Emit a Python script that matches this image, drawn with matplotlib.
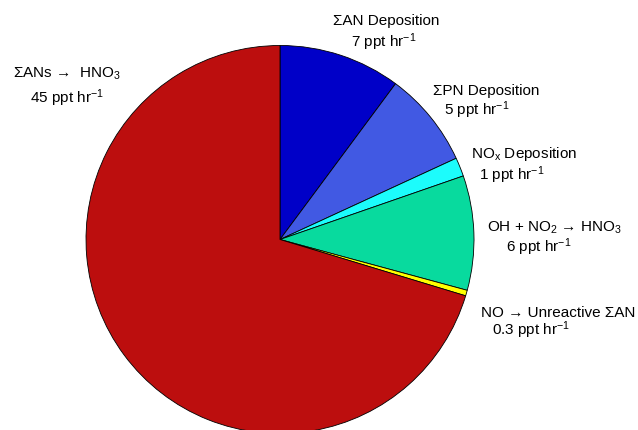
import matplotlib
matplotlib.use('Agg')
import matplotlib.pyplot as plt

plt.rcParams['font.family'] = ['Liberation Sans', 'DejaVu Sans']
plt.rcParams['mathtext.fontset'] = 'custom'
plt.rcParams['mathtext.rm'] = 'Liberation Sans'
plt.rcParams['mathtext.it'] = 'Liberation Sans'

# loss rates (ppt/hr), clockwise from top
names = ['\u03a3AN Deposition', '\u03a3PN Deposition', r'NO$_\mathrm{x}$ Deposition',
         r'OH + NO$_\mathrm{2}$ \u2192 HNO$_\mathrm{3}$'.replace(r'\u2192', '\u2192'),
         'NO \u2192 Unreactive \u03a3AN', '\u03a3ANs \u2192  HNO$_\mathrm{3}$']
rates = [6.5, 5.1, 1.0, 6.1, 0.3, 45]
rate_labels = ['7', '5', '1', '6', '0.3', '45']
colors = ['#0000c8', '#4159e3', '#1cfcfc', '#08da9e', '#ffff00', '#bc0e0e']

W, H = 638, 431
fig = plt.figure(figsize=(W / 100, H / 100), dpi=100)

# pie centre (280, 240.5) px, radius 194 px
cx, cy, r = 280, 240.5, 194
ax = fig.add_axes([(cx - r) / W, (H - cy - r) / H, 2 * r / W, 2 * r / H])
ax.pie(rates, colors=colors, startangle=90, counterclock=False,
       wedgeprops=dict(edgecolor='black', linewidth=0.6))
ax.set_xlim(-1, 1)
ax.set_ylim(-1, 1)
ax.axis('off')

# label line positions in pixels (x centre, baseline y)
line1_pos = [(386, 25), (486, 95), (524, 158), (554, 232), (558, 317), (67, 78)]
line2_pos = [(384, 47), (477, 115), (512, 180), (539, 252), (531, 335), (67, 103)]

for name, rl, p1, p2 in zip(names, rate_labels, line1_pos, line2_pos):
    fig.text(p1[0] / W, 1 - p1[1] / H, name, ha='center', va='baseline', fontsize=11)
    fig.text(p2[0] / W, 1 - p2[1] / H, rl + ' ppt hr$^{-1}$', ha='center',
             va='baseline', fontsize=11)

fig.savefig('out.png', dpi=100)
